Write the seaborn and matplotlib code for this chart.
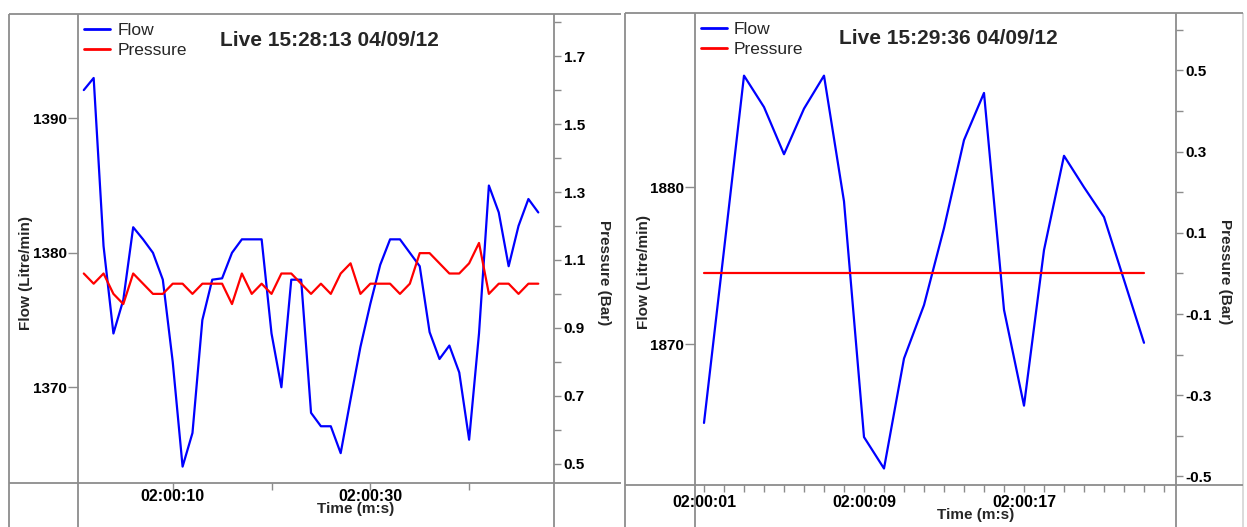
import matplotlib
matplotlib.use("Agg")
import matplotlib.pyplot as plt
from matplotlib.lines import Line2D
import seaborn as sns

# ---------------------------------------------------------------------------
# Data
# ---------------------------------------------------------------------------
sec_left = [1, 2, 3, 4, 5, 6, 7, 8, 9, 10, 11, 12, 13, 14, 15, 16, 17, 18, 19, 20,
            21, 22, 23, 24, 25, 26, 27, 28, 29, 30, 31, 32, 33, 34, 35, 36, 37, 38,
            39, 40, 41, 42, 43, 44, 45, 46, 47]
flow_left = [1392.1, 1393.0, 1380.5, 1374.0, 1376.5, 1381.9, 1381.0, 1380.0, 1378.0, 1371.9,
             1364.1, 1366.6, 1375.0, 1378.0, 1378.1, 1380.0, 1381.0, 1381.0, 1381.0, 1374.0,
             1370.0, 1378.0, 1378.0, 1368.1, 1367.1, 1367.1, 1365.1, 1369.1, 1373.0, 1376.2,
             1379.1, 1381.0, 1381.0, 1380.0, 1379.0, 1374.1, 1372.1, 1373.1, 1371.1, 1366.1,
             1374.0, 1385.0, 1383.0, 1379.0, 1382.0, 1384.0, 1383.0]
pres_left = [1.06, 1.03, 1.06, 1.00, 0.97, 1.06, 1.03, 1.00, 1.00, 1.03,
             1.03, 1.00, 1.03, 1.03, 1.03, 0.97, 1.06, 1.00, 1.03, 1.00,
             1.06, 1.06, 1.03, 1.00, 1.03, 1.00, 1.06, 1.09, 1.00, 1.03,
             1.03, 1.03, 1.00, 1.03, 1.12, 1.12, 1.09, 1.06, 1.06, 1.09,
             1.15, 1.00, 1.03, 1.03, 1.00, 1.03, 1.03]

sec_right = [1, 2, 3, 4, 5, 6, 7, 8, 9, 10, 11, 12, 13, 14, 15, 16, 17, 18, 19, 20, 21, 22, 23]
flow_right = [1865.0, 1876.0, 1887.1, 1885.1, 1882.1, 1885.0, 1887.1, 1879.1, 1864.1, 1862.1,
              1869.1, 1872.5, 1877.4, 1883.0, 1886.0, 1872.2, 1866.1, 1876.0, 1882.0, 1880.0,
              1878.1, 1874.1, 1870.1]
pres_right = [0.0, 0.0, 0.0, 0.0, 0.0, 0.0, 0.0, 0.0, 0.0, 0.0, 0.0, 0.0,
              0.0, 0.0, 0.0, 0.0, 0.0, 0.0, 0.0, 0.0, 0.0, 0.0, 0.0]

titles = ["Live 15:28:13 04/09/12", "Live 15:29:36 04/09/12"]

flow_ticks_left = [1370, 1380, 1390]
pres_ticks_left = [0.5, 0.7, 0.9, 1.1, 1.3, 1.5, 1.7]
pres_minor_left = [0.6, 0.8, 1.0, 1.2, 1.4, 1.6, 1.8]
time_ticks_left = [10, 30]
time_labels_left = ["02:00:10", "02:00:30"]
time_minor_left = [20, 40]

flow_ticks_right = [1870, 1880]
pres_ticks_right = [-0.5, -0.3, -0.1, 0.1, 0.3, 0.5]
pres_minor_right = [-0.4, -0.2, 0.0, 0.2, 0.4, 0.6]
time_ticks_right = [1, 9, 17]
time_labels_right = ["02:00:01", "02:00:09", "02:00:17"]
time_minor_right = [2, 3, 4, 5, 6, 7, 8, 10, 11, 12, 13, 14, 15, 16,
                    18, 19, 20, 21, 22, 23, 24]

# ---------------------------------------------------------------------------
# Style
# ---------------------------------------------------------------------------
sns.set_theme(style="white")
plt.rcParams["font.family"] = ["Liberation Sans", "DejaVu Sans"]

W, H = 1247, 527
FRAME = "#8c8c8c"
C_FLOW = "#0000ff"
C_PRES = "#ff0000"

fig = plt.figure(figsize=(W / 100, H / 100), dpi=100)


def fig_line(xs, ys, color=FRAME, lw=1.3):
    fig.add_artist(Line2D([x / W for x in xs], [1 - y / H for y in ys],
                          color=color, lw=lw, solid_capstyle="butt"))


def panel(box, sec, flow, pres, title, flow_lim, pres_lim, x_lim,
          f_ticks, p_ticks, p_minor, t_ticks, t_labels, t_minor,
          xtick_pad, lab_offsets):
    x0, y0, x1, y1 = box
    ax = fig.add_axes([x0 / W, 1 - y1 / H, (x1 - x0) / W, (y1 - y0) / H])
    ax2 = ax.twinx()

    sns.lineplot(x=sec, y=flow, ax=ax, color=C_FLOW, lw=1.6, legend=False)
    sns.lineplot(x=sec, y=pres, ax=ax2, color=C_PRES, lw=1.6, legend=False)

    ax.set_xlim(*x_lim)
    ax.set_ylim(*flow_lim)
    ax2.set_ylim(*pres_lim)

    for a in (ax, ax2):
        for s in a.spines.values():
            s.set_visible(False)

    ax.set_yticks(f_ticks, labels=[str(v) for v in f_ticks])
    ax2.set_yticks(p_ticks, labels=[f"{v:.1f}" for v in p_ticks])
    ax2.set_yticks(p_minor, minor=True)
    ax.set_xticks(t_ticks, labels=t_labels)
    ax.set_xticks(t_minor, minor=True)

    ax.tick_params(axis="y", which="both", direction="out", length=7, width=1,
                   color=FRAME, pad=1, labelsize=11, left=True, labelcolor="black")
    ax2.tick_params(axis="y", which="both", direction="out", length=5, width=1,
                    color=FRAME, pad=2, labelsize=11, right=True, labelcolor="black")
    ax.tick_params(axis="x", which="both", direction="out", length=5, width=1,
                   color=FRAME, pad=xtick_pad, labelsize=11.5, bottom=True,
                   labelcolor="black")
    for lab in ax.get_xticklabels() + ax.get_yticklabels() + ax2.get_yticklabels():
        lab.set_fontweight("bold")

    ax.set_xlabel("Time (m:s)", fontsize=11, fontweight="bold")
    ax.set_ylabel("Flow (Litre/min)", fontsize=11, fontweight="bold")
    ax2.set_ylabel("Pressure (Bar)", fontsize=11, fontweight="bold", rotation=270)

    w, h = x1 - x0, y1 - y0
    fl_x, pr_x, tm_x, tm_y = lab_offsets
    ax.yaxis.set_label_coords(fl_x / w, 1 - 259 / h)
    ax2.yaxis.set_label_coords(1 + pr_x / w, 1 - 259 / h)
    ax.xaxis.set_label_coords(tm_x / w, -tm_y / h)

    ax2.text(0.527, 1 - 26 / h, title, transform=ax.transAxes, ha="center",
             va="center", fontsize=15, fontweight="bold")

    handles = [Line2D([], [], color=C_FLOW, lw=2), Line2D([], [], color=C_PRES, lw=2)]
    ax2.legend(handles, ["Flow", "Pressure"], loc="upper left",
               bbox_to_anchor=(6 / w, 1 - 9 / h), frameon=False, fontsize=12.5,
               handlelength=1.5, handletextpad=0.4, labelspacing=0.28,
               borderpad=0, borderaxespad=0)
    return ax, ax2


# left panel
panel((78.3, 14.1, 554, 483), sec_left, flow_left, pres_left, titles[0],
      (1362.88, 1397.75), (0.443, 1.824), (0.445, 48.59),
      flow_ticks_left, pres_ticks_left, pres_minor_left,
      time_ticks_left, time_labels_left, time_minor_left,
      -0.8, (-45, 57, 277, 19))

# right panel
panel((695, 12.8, 1176, 485), sec_right, flow_right, pres_right, titles[1],
      (1861.05, 1891.1), (-0.521, 0.642), (0.55, 24.6),
      flow_ticks_right, pres_ticks_right, pres_minor_right,
      time_ticks_right, time_labels_right, time_minor_right,
      2.2, (-44, 56, 281, 22.5))

# window frames around the two panels
for xv in (8.7, 78.3, 554):
    fig_line([xv, xv], [14.1, 527])
fig_line([8.7, 621], [14.1, 14.1])
fig_line([8.7, 621], [483, 483])

for xv in (625, 695, 1176):
    fig_line([xv, xv], [12.8, 527])
fig_line([1243, 1243], [12.8, 527], color="#d8d8d8")
fig_line([625, 1243], [12.8, 12.8])
fig_line([625, 1243], [485, 485])

fig.savefig("out.png", dpi=100)
